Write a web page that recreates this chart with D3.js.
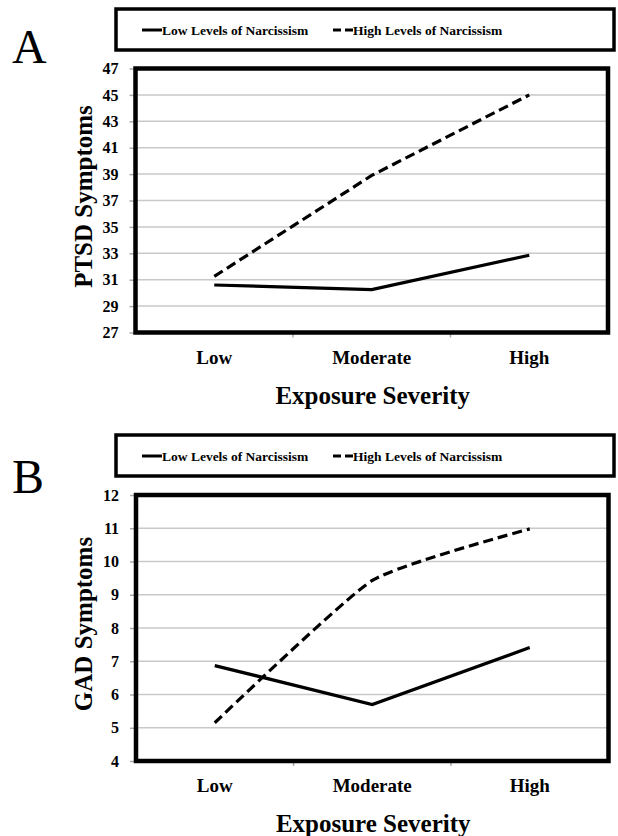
<!DOCTYPE html>
<html>
<head>
<meta charset="utf-8">
<script src="https://cdn.jsdelivr.net/npm/d3@7"></script>
<style>
  html, body { margin: 0; padding: 0; background: #fff; }
  svg { display: block; font-family: 'Liberation Serif', 'Times New Roman', serif; }
</style>
</head>
<body>
<svg id="chart" width="618" height="836"></svg>
<script>
// ── Data ─────────────────────────────────────────────
const categories = ['Low', 'Moderate', 'High'];
const seriesNames = ['Low Levels of Narcissism', 'High Levels of Narcissism'];

const ptsdTicks = [27, 29, 31, 33, 35, 37, 39, 41, 43, 45, 47];
const ptsdLow   = [30.6, 30.25, 32.85];
const ptsdHigh  = [31.25, 38.9, 45.0];

const gadTicks = [4, 5, 6, 7, 8, 9, 10, 11, 12];
const gadLow   = [6.87, 5.70, 7.41];
const gadHigh  = [5.15, 9.43, 10.98];

const svg = d3.select('#chart');

// ── One panel ────────────────────────────────────────
function panel(opt) {
  const { letter, letterY, legendTop, box, ticks, yTitle, low, high, smoothHigh } = opt;
  const g = svg.append('g');

  // panel letter
  g.append('text')
    .attr('x', 12).attr('y', letterY)
    .attr('font-size', 48)
    .text(letter);

  // legend box
  const lg = g.append('g');
  lg.append('rect')
    .attr('x', 116).attr('y', legendTop)
    .attr('width', 498).attr('height', 41)
    .attr('fill', 'none').attr('stroke', '#000').attr('stroke-width', 3.5);
  const ly = legendTop + 21;
  lg.append('line')
    .attr('x1', 142).attr('x2', 162).attr('y1', ly).attr('y2', ly)
    .attr('stroke', '#000').attr('stroke-width', 3);
  lg.append('text')
    .attr('x', 162).attr('y', ly + 4.5)
    .attr('font-size', 13.5).attr('font-weight', 'bold')
    .text(seriesNames[0]);
  lg.append('line')
    .attr('x1', 333).attr('x2', 353).attr('y1', ly).attr('y2', ly)
    .attr('stroke', '#000').attr('stroke-width', 3)
    .attr('stroke-dasharray', '8,4');
  lg.append('text')
    .attr('x', 353).attr('y', ly + 4.5)
    .attr('font-size', 13.5).attr('font-weight', 'bold')
    .text(seriesNames[1]);

  // scales
  const x = d3.scalePoint().domain(categories).range([box.x0, box.x1]).padding(0.5);
  const y = d3.scaleLinear().domain(d3.extent(ticks)).range([box.y1, box.y0]);

  // gridlines
  g.append('g').selectAll('line')
    .data(ticks.slice(1, -1)).join('line')
    .attr('x1', box.x0).attr('x2', box.x1)
    .attr('y1', d => y(d)).attr('y2', d => y(d))
    .attr('stroke', '#c9c9c9').attr('stroke-width', 1.5);

  // y axis
  const yAxis = g.append('g')
    .attr('transform', `translate(${box.x0},0)`)
    .call(d3.axisLeft(y).tickValues(ticks).tickSize(6).tickPadding(11));
  yAxis.select('.domain').remove();
  yAxis.selectAll('.tick line').attr('stroke', '#aaa').attr('stroke-width', 1.5);
  yAxis.selectAll('.tick text')
    .attr('font-family', 'Liberation Serif').attr('font-size', 16)
    .attr('font-weight', 'bold').attr('fill', '#000');

  // x axis: boundary ticks and category labels
  const band = (box.x1 - box.x0) / categories.length;
  g.append('g').selectAll('line')
    .data(d3.range(1, categories.length)).join('line')
    .attr('x1', d => box.x0 + d * band).attr('x2', d => box.x0 + d * band)
    .attr('y1', box.y1).attr('y2', box.y1 + 5)
    .attr('stroke', '#aaa').attr('stroke-width', 1.5);
  g.append('g').selectAll('text')
    .data(categories).join('text')
    .attr('x', d => x(d)).attr('y', box.y1 + 31)
    .attr('text-anchor', 'middle')
    .attr('font-size', 19).attr('font-weight', 'bold')
    .text(d => d);

  // axis titles
  g.append('text')
    .attr('x', (box.x0 + box.x1) / 2 + 1).attr('y', box.y1 + 71)
    .attr('text-anchor', 'middle')
    .attr('font-size', 25).attr('font-weight', 'bold')
    .text('Exposure Severity');
  g.append('text')
    .attr('transform', `translate(92,${(box.y0 + box.y1) / 2 - 4}) rotate(-90)`)
    .attr('text-anchor', 'middle')
    .attr('font-size', 25).attr('font-weight', 'bold')
    .text(yTitle);

  // lines
  const lineLin = d3.line().x((d, i) => x(categories[i])).y(d => y(d));
  const lineSmooth = d3.line().x((d, i) => x(categories[i])).y(d => y(d))
    .curve(d3.curveCardinal.tension(0.5));
  g.append('path')
    .attr('d', lineLin(low))
    .attr('fill', 'none').attr('stroke', '#000').attr('stroke-width', 3.2);
  g.append('path')
    .attr('d', (smoothHigh ? lineSmooth : lineLin)(high))
    .attr('fill', 'none').attr('stroke', '#000').attr('stroke-width', 3.2)
    .attr('stroke-dasharray', '10,5');

  // plot frame
  g.append('rect')
    .attr('x', box.x0).attr('y', box.y0)
    .attr('width', box.x1 - box.x0).attr('height', box.y1 - box.y0)
    .attr('fill', 'none').attr('stroke', '#000').attr('stroke-width', 4.5);
}

panel({
  letter: 'A', letterY: 63, legendTop: 9,
  box: { x0: 135.5, x1: 608, y0: 68.5, y1: 332.5 },
  ticks: ptsdTicks, yTitle: 'PTSD Symptoms',
  low: ptsdLow, high: ptsdHigh, smoothHigh: false
});

panel({
  letter: 'B', letterY: 493, legendTop: 435,
  box: { x0: 136, x1: 608.5, y0: 495, y1: 761 },
  ticks: gadTicks, yTitle: 'GAD Symptoms',
  low: gadLow, high: gadHigh, smoothHigh: true
});
</script>
</body>
</html>
